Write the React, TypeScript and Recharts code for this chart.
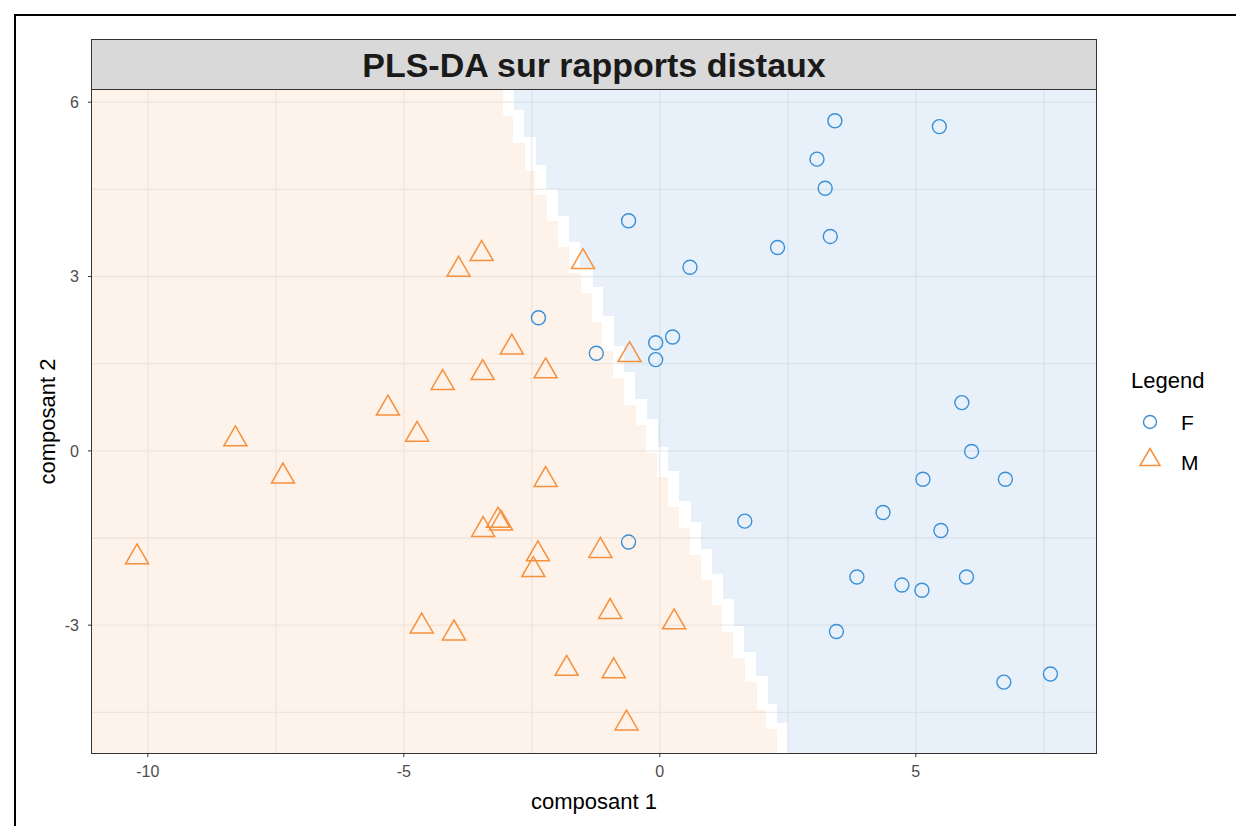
import React from 'react';
import { ScatterChart, Scatter, XAxis, YAxis, CartesianGrid, ReferenceArea } from 'recharts';

// group F (circles)
const fX = [-0.61, 2.30, 0.59, -2.37, -1.24, -0.08, 0.25, -0.08, 3.42, 5.46, 3.07, 3.23, 3.33, 5.90,
  6.09, 5.14, 6.75, 4.36, 5.49, 3.85, 4.73, 5.12, 5.99, 3.45, 6.72, 7.63, -0.61, 1.66];
const fY = [3.96, 3.50, 3.16, 2.29, 1.68, 1.86, 1.96, 1.57, 5.68, 5.58, 5.02, 4.52, 3.69, 0.83,
  -0.01, -0.49, -0.49, -1.06, -1.37, -2.17, -2.31, -2.40, -2.17, -3.11, -3.98, -3.84, -1.57, -1.21];

// group M (triangles)
const mX = [-5.31, -4.74, -8.29, -7.36, -10.21, -4.65, -3.48, -3.93, -1.50, -2.89, -3.46, -2.23, -4.24, -0.59,
  -2.23, -3.45, -3.16, -3.10, -2.38, -2.47, -1.16, -4.02, -0.97, 0.28, -1.82, -0.90, -0.65];
const mY = [0.73, 0.28, 0.20, -0.44, -1.83, -3.02, 3.39, 3.12, 3.25, 1.78, 1.34, 1.37, 1.17, 1.65,
  -0.50, -1.36, -1.20, -1.25, -1.78, -2.05, -1.72, -3.14, -2.77, -2.95, -3.75, -3.79, -4.69];

// decision region: row limits (top to bottom) and the x where the M region stops in each row
const rowLimits = [6.21, 5.76, 5.30, 4.82, 4.41, 3.95, 3.50, 3.06, 2.72, 2.22, 1.71, 1.25, 0.79, 0.44,
  -0.04, -0.45, -0.96, -1.33, -1.79, -2.22, -2.65, -3.11, -3.57, -3.97, -4.46, -4.78, -5.20];
const rowEdges = [-3.07, -2.87, -2.64, -2.44, -2.21, -1.99, -1.77, -1.53, -1.33, -1.12, -0.91, -0.70, -0.47,
  -0.26, -0.05, 0.16, 0.38, 0.59, 0.80, 1.01, 1.22, 1.43, 1.66, 1.89, 2.07, 2.28];
const gapWidth = 0.22; // white band between the two regions
const stepLead = 0.1;  // F region steps a little above the M region

const xDomain = [-11.09, 8.52];
const yDomain = [-5.20, 6.21];
const xTicks = [-10, -5, 0, 5];
const yTicks = [-3, 0, 3, 6];
const xGrid = [-10, -7.5, -5, -2.5, 0, 2.5, 5, 7.5];
const yGrid = [-4.5, -3, -1.5, 0, 1.5, 3, 4.5, 6];

const fData = fX.map((x, i) => ({ x, y: fY[i] }));
const mData = mX.map((x, i) => ({ x, y: mY[i] }));

const BLUE = '#3A8FD6';
const ORANGE = '#F7903C';
const FONT = '"Liberation Sans", Arial, sans-serif';

const CircleMark = (p: any) => (
  <circle cx={p.cx} cy={p.cy} r={7} fill="none" stroke={BLUE} strokeWidth={1.4} />
);

const TriangleMark = (p: any) => (
  <polygon
    points={`${p.cx},${p.cy - 13.3} ${p.cx + 11.5},${p.cy + 6.6} ${p.cx - 11.5},${p.cy + 6.6}`}
    fill="none"
    stroke={ORANGE}
    strokeWidth={1.5}
  />
);

const tile = (fill: string) => (p: any) => (
  <rect x={p.x} y={p.y} width={p.width} height={p.height} fill={fill} fillOpacity={0.3} shapeRendering="crispEdges" />
);

const last = rowEdges.length - 1;

const App: React.FC = () => {
  return (
    <div style={{ position: 'relative', width: 1244, height: 834, margin: -8, fontFamily: FONT, overflow: 'hidden' }}>
      <div style={{ position: 'absolute', left: 14, top: 14, width: 1300, height: 900, borderTop: '2px solid #000', borderLeft: '2px solid #000' }} />
      <div style={{ position: 'absolute', left: 0, top: 0 }}>
        <ScatterChart width={1244} height={834} margin={{ top: 90, right: 148, bottom: 51, left: 52 }}>
          <CartesianGrid horizontalValues={yGrid} verticalValues={xGrid} stroke="#EBEBEB" strokeWidth={1.3} />
          <XAxis
            type="number"
            dataKey="x"
            domain={xDomain}
            ticks={xTicks}
            allowDataOverflow
            height={30}
            tickSize={4}
            tickMargin={9}
            axisLine={false}
            tickLine={{ stroke: '#333333' }}
            tick={{ fill: '#4D4D4D', fontSize: 16, fontFamily: FONT }}
            label={{
              content: (props: any) => {
                const vb = props.viewBox;
                return (
                  <text x={vb.x + vb.width / 2} y={vb.y + 56} textAnchor="middle" fontSize={22} fontFamily={FONT} fill="#000">
                    composant 1
                  </text>
                );
              },
            }}
          />
          <YAxis
            type="number"
            dataKey="y"
            domain={yDomain}
            ticks={yTicks}
            allowDataOverflow
            width={40}
            tickSize={4}
            tickMargin={9}
            axisLine={false}
            tickLine={{ stroke: '#333333' }}
            tick={{ fill: '#4D4D4D', fontSize: 16, fontFamily: FONT }}
            label={{
              content: (props: any) => {
                const vb = props.viewBox;
                const cx = vb.x - 5;
                const cy = vb.y + vb.height / 2;
                return (
                  <text x={cx} y={cy} transform={`rotate(-90 ${cx} ${cy})`} textAnchor="middle" dominantBaseline="central" fontSize={22} fontFamily={FONT} fill="#000">
                    composant 2
                  </text>
                );
              },
            }}
          />
          {rowEdges.map((edge, i) => (
            <ReferenceArea
              key={`m${i}`}
              x1={xDomain[0]}
              x2={edge}
              y1={rowLimits[i + 1]}
              y2={rowLimits[i]}
              ifOverflow="hidden"
              shape={tile('#FAD7B9')}
            />
          ))}
          {rowEdges.map((edge, i) => (
            <ReferenceArea
              key={`f${i}`}
              x1={edge + gapWidth}
              x2={xDomain[1]}
              y1={i === last ? yDomain[0] : rowLimits[i + 1] + stepLead}
              y2={i === 0 ? yDomain[1] : rowLimits[i] + stepLead}
              ifOverflow="hidden"
              shape={tile('#B3D1EE')}
            />
          ))}
          <Scatter name="F" data={fData} shape={CircleMark} isAnimationActive={false} />
          <Scatter name="M" data={mData} shape={TriangleMark} isAnimationActive={false} />
        </ScatterChart>
      </div>
      {/* panel border */}
      <div style={{ position: 'absolute', left: 91, top: 89, width: 1004, height: 663, border: '1px solid #333333', pointerEvents: 'none' }} />
      {/* title strip */}
      <div
        style={{
          position: 'absolute', left: 91, top: 39, width: 1004, height: 49, border: '1px solid #333333',
          background: '#D9D9D9', textAlign: 'center', lineHeight: '51px', fontSize: 34, fontWeight: 'bold', color: '#1A1A1A',
        }}
      >
        PLS-DA sur rapports distaux
      </div>
      {/* legend */}
      <div style={{ position: 'absolute', left: 1131, top: 366, fontSize: 22, lineHeight: '30px', color: '#000' }}>Legend</div>
      <svg style={{ position: 'absolute', left: 1134, top: 404 }} width={34} height={74}>
        <circle cx={16} cy={18} r={6.5} fill="none" stroke={BLUE} strokeWidth={1.4} />
        <polygon points="16,44.5 26,61.5 6,61.5" fill="none" stroke={ORANGE} strokeWidth={1.5} />
      </svg>
      <div style={{ position: 'absolute', left: 1181, top: 408, fontSize: 21, lineHeight: '30px', color: '#000' }}>F</div>
      <div style={{ position: 'absolute', left: 1181, top: 448, fontSize: 21, lineHeight: '30px', color: '#000' }}>M</div>
    </div>
  );
};

export default App;
